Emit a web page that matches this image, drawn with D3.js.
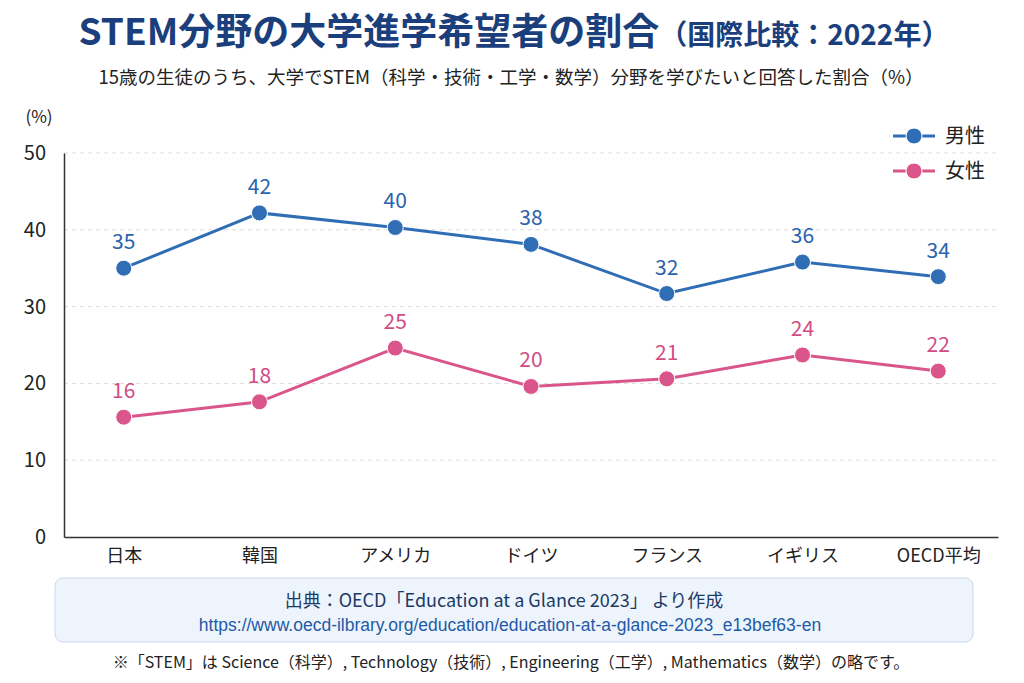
<!DOCTYPE html>
<html>
<head>
<meta charset="utf-8">
<script src="https://cdn.jsdelivr.net/npm/d3@7"></script>
<style>
  body { margin: 0; background: #fff; }
  text { font-family: "Noto Sans CJK JP", "Noto Sans", sans-serif; }
</style>
</head>
<body>
<svg id="chart" width="1024" height="683"></svg>
<script>
// データ
var categories = ["日本", "韓国", "アメリカ", "ドイツ", "フランス", "イギリス", "OECD平均"];
var male = [35.0, 42.2, 40.3, 38.1, 31.7, 35.8, 33.9];
var female = [15.6, 17.6, 24.6, 19.6, 20.6, 23.7, 21.6];
var maleLabels = [35, 42, 40, 38, 32, 36, 34];
var femaleLabels = [16, 18, 25, 20, 21, 24, 22];
var yTicks = [0, 10, 20, 30, 40, 50];
var seriesNames = ["男性", "女性"];

var blue = "#2f6db5";
var pink = "#d9558a";

var svg = d3.select("#chart");

// タイトル
var title = svg.append("text")
  .attr("x", 514)
  .attr("y", 45)
  .attr("text-anchor", "middle")
  .attr("fill", "#1b3f7c")
  .attr("font-weight", "bold");
title.append("tspan").attr("font-size", 37).text("STEM分野の大学進学希望者の割合");
title.append("tspan").attr("font-size", 28).text("（国際比較：2022年）");

svg.append("text")
  .attr("x", 511)
  .attr("y", 84)
  .attr("text-anchor", "middle")
  .attr("font-size", 18.5)
  .attr("fill", "#222")
  .text("15歳の生徒のうち、大学でSTEM（科学・技術・工学・数学）分野を学びたいと回答した割合（%）");

// スケール
var x = d3.scalePoint()
  .domain(categories)
  .range([64, 998])
  .padding(0.44);

var y = d3.scaleLinear()
  .domain([0, 50])
  .range([537, 153]);

// グリッド
svg.append("g")
  .selectAll("line")
  .data(yTicks.filter(d => d > 0))
  .enter()
  .append("line")
  .attr("x1", 64)
  .attr("x2", 998)
  .attr("y1", d => y(d))
  .attr("y2", d => y(d))
  .attr("stroke", "#dcdcdc")
  .attr("stroke-width", 1)
  .attr("stroke-dasharray", "4,4");

// 軸
var yAxis = svg.append("g")
  .attr("transform", "translate(64,0)")
  .call(d3.axisLeft(y).tickValues(yTicks).tickSize(0).tickPadding(18));
yAxis.select(".domain").attr("stroke", "#333").attr("stroke-width", 1.5);
yAxis.selectAll("text")
  .attr("font-size", 20)
  .attr("fill", "#222")
  .style("font-family", "'Noto Sans CJK JP', sans-serif");

var xAxis = svg.append("g")
  .attr("transform", "translate(0," + y(0) + ")")
  .call(d3.axisBottom(x).tickSize(0).tickPadding(12));
xAxis.select(".domain").attr("stroke", "#333").attr("stroke-width", 1.5);
xAxis.selectAll("text")
  .attr("font-size", 18)
  .attr("fill", "#222")
  .style("font-family", "'Noto Sans CJK JP', sans-serif");

svg.append("text")
  .attr("x", 39)
  .attr("y", 123)
  .attr("text-anchor", "middle")
  .attr("font-size", 17)
  .attr("fill", "#222")
  .text("(%)");

// 折れ線
var line = d3.line()
  .x((d, i) => x(categories[i]))
  .y(d => y(d));

var series = [
  { name: seriesNames[0], values: male, labels: maleLabels, color: blue, text: "#2a63ad" },
  { name: seriesNames[1], values: female, labels: femaleLabels, color: pink, text: "#d24c84" }
];

series.forEach(function (s) {
  svg.append("path")
    .datum(s.values)
    .attr("d", line)
    .attr("fill", "none")
    .attr("stroke", s.color)
    .attr("stroke-width", 3);

  svg.append("g")
    .selectAll("circle")
    .data(s.values)
    .enter()
    .append("circle")
    .attr("cx", (d, i) => x(categories[i]))
    .attr("cy", d => y(d))
    .attr("r", 8)
    .attr("fill", s.color)
    .attr("stroke", "#fff")
    .attr("stroke-width", 1);

  svg.append("g")
    .selectAll("text")
    .data(s.values)
    .enter()
    .append("text")
    .attr("x", (d, i) => x(categories[i]))
    .attr("y", d => y(d) - 19)
    .attr("text-anchor", "middle")
    .attr("font-size", 21)
    .attr("fill", s.text)
    .text((d, i) => s.labels[i]);
});

// 凡例
var legend = svg.append("g")
  .selectAll("g")
  .data(series)
  .enter()
  .append("g")
  .attr("transform", (d, i) => "translate(893," + (136 + i * 35) + ")");
legend.append("line")
  .attr("x1", 0).attr("x2", 42)
  .attr("stroke", d => d.color)
  .attr("stroke-width", 3);
legend.append("circle")
  .attr("cx", 21).attr("r", 8)
  .attr("fill", d => d.color)
  .attr("stroke", "#fff");
legend.append("text")
  .attr("x", 52)
  .attr("y", 7)
  .attr("font-size", 20)
  .attr("fill", "#222")
  .text(d => d.name);

// 出典
svg.append("rect")
  .attr("x", 55)
  .attr("y", 578)
  .attr("width", 918)
  .attr("height", 64)
  .attr("rx", 8)
  .attr("fill", "#eef4fc")
  .attr("stroke", "#c7d9ef");

svg.append("text")
  .attr("x", 504)
  .attr("y", 607)
  .attr("text-anchor", "middle")
  .attr("font-size", 18)
  .attr("fill", "#1c3a66")
  .text("出典：OECD「Education at a Glance 2023」 より作成");

svg.append("text")
  .attr("x", 510)
  .attr("y", 631)
  .attr("text-anchor", "middle")
  .attr("font-size", 17.5)
  .attr("fill", "#1f5aa6")
  .style("font-family", "'Liberation Sans', Arial, sans-serif")
  .text("https://www.oecd-ilbrary.org/education/education-at-a-glance-2023_e13bef63-en");

svg.append("text")
  .attr("x", 511)
  .attr("y", 668)
  .attr("text-anchor", "middle")
  .attr("font-size", 16)
  .attr("fill", "#222")
  .text("※「STEM」は Science（科学）, Technology（技術）, Engineering（工学）, Mathematics（数学）の略です。");
</script>
</body>
</html>
